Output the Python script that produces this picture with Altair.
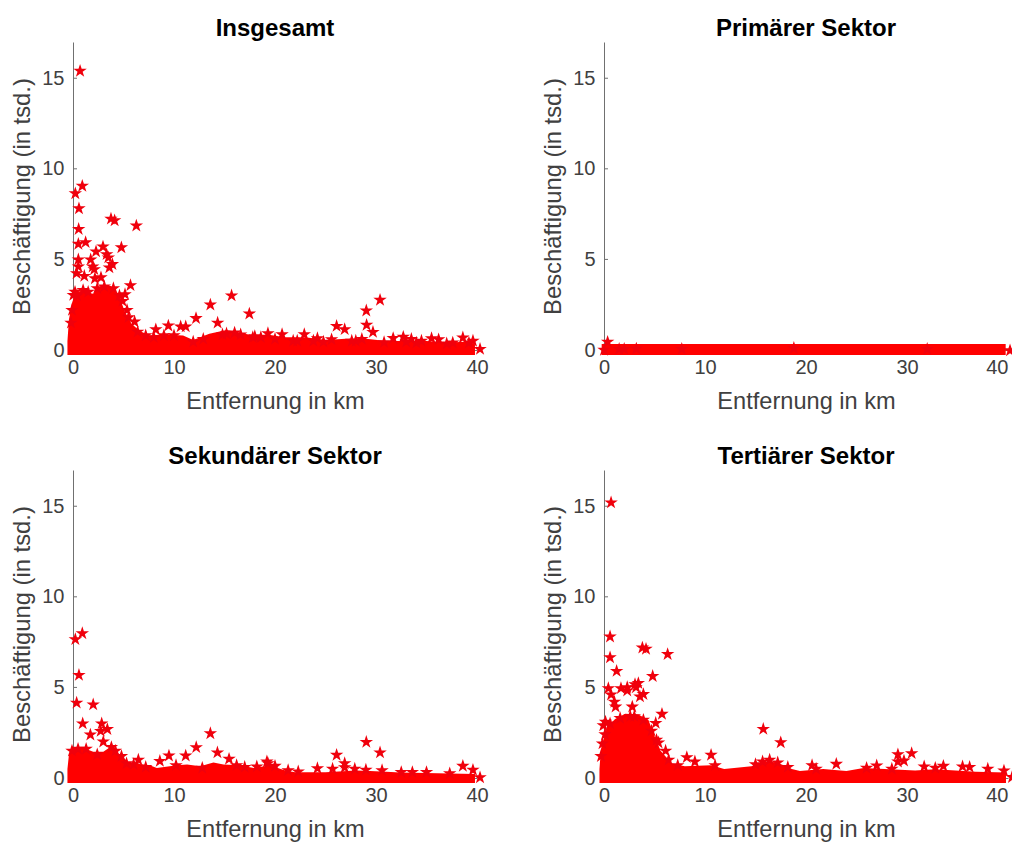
import altair as alt
import pandas as pd

FONT = "Liberation Sans"
STAR = "M0,-1L.225,-.309L.951,-.309L.363,.118L.588,.809L0,.382L-.588,.809L-.363,.118L-.951,-.309L-.225,-.309Z"
Y_TICKS = [0, 5, 10, 15]
X_TICKS = [0, 10, 20, 30, 40]
BAND_BOTTOM = -0.27

# --- Insgesamt ---
a_env_x = [-0.55, -0.4, -0.1, 0.2, 0.7, 2.0, 2.7, 3.7, 4.5, 5.1, 5.8, 6.6, 7.6, 8.9, 10.9, 11.9, 13.5, 15.2, 16.5, 17.9, 19.2, 21, 23, 25, 27, 29, 31, 33, 35, 37, 39, 39.8]
a_env_y = [0.5, 1.7, 2.6, 3.1, 3.25, 3.1, 3.5, 3.55, 3.1, 2.15, 1.45, 1.05, 0.8, 0.85, 0.8, 0.55, 0.9, 1.1, 0.95, 0.8, 0.85, 0.7, 0.7, 0.55, 0.62, 0.62, 0.5, 0.5, 0.5, 0.42, 0.45, 0.3]
a_x = [0.7, 0.92, 0.23, 0.59, 0.56, 0.53, 1.25, 3.76, 4.12, 6.27, 4.79, 2.97, 2.28, 3.33, 3.5, 1.75, 1.95, 2.1, 0.53, 0.53, 0.36, 1.12, 2.17, 2.77, 3.6, 3.9, 5.69, 5.15, 0.03, 0.2, 5.35, 6.1, 8.2, 9.44, 10.66, 11.16, 12.18, 13.6, 15.7, 17.46, 14.32,
       30.4, 29.04, 29.07, 29.7, 26.1, 26.9, 19.3, 20.7, 22.9, 24.2, 25.6, 31.7, 32.7, 33.5, 34.5, 35.5, 36.2, 38.6, 39.6, 40.3,
       -0.2, -0.1, 0.4, 1.0, 1.5, 2.4, 3.1, 4.0, 4.6, 4.9, 5.5, 6.4, 7.2, 8.0, 9.0, 10.0, 12.9, 15.2, 16.0, 16.6, 17.8, 18.6, 21.8, 23.8, 28.0, 30.8, 37.6,
       11.9, 14.8, 20.0, 22.2, 24.8, 27.6, 28.6, 33.0, 34.0, 37.0, 39.2, 18.0]
a_y = [15.4, 9.05, 8.64, 7.81, 6.67, 5.85, 5.94, 7.24, 7.15, 6.86, 5.66, 5.7, 5.43, 5.28, 5.1, 4.99, 4.6, 4.45, 4.99, 4.6, 4.23, 4.08, 3.95, 4.0, 4.55, 4.73, 3.57, 3.07, 3.03, 3.2, 2.2, 1.56, 1.13, 1.34, 1.29, 1.29, 1.75, 2.5, 3.0, 2.0, 1.5,
       2.76, 2.17, 1.38, 0.99, 1.32, 1.14, 0.92, 0.86, 0.86, 0.64, 0.58, 0.65, 0.72, 0.6, 0.5, 0.64, 0.58, 0.68, 0.5, 0.05,
       1.5, 2.2, 3.0, 3.3, 3.2, 3.4, 3.5, 3.4, 3.0, 2.7, 1.8, 1.0, 0.8, 0.7, 0.8, 0.8, 0.6, 0.9, 0.95, 0.85, 0.7, 0.7, 0.5, 0.5, 0.5, 0.42, 0.4,
       0.45, 0.85, 0.6, 0.5, 0.45, 0.5, 0.6, 0.45, 0.4, 0.35, 0.4, 0.75]

# --- Primaerer Sektor ---
b_env_x = [-0.23, 39.77]
b_env_y = [0.33, 0.33]
b_x = [0.36, 18.8, 0.0, 40.2, 3.2, 1.5, 2.0, 7.7, 32.0]
b_y = [0.44, 0.1, 0.0, -0.03, 0.07, 0.05, 0.05, 0.05, 0.05]

# --- Sekundaerer Sektor ---
c_env_x = [-0.55, -0.4, 0.0, 0.87, 2.0, 3.0, 3.66, 4.65, 5.5, 7.6, 8.3, 10.3, 11.3, 12.6, 13.9, 14.9, 16.5, 17.9, 19.5, 21, 22, 25, 28, 29.4, 31, 32.4, 39.8]
c_env_y = [0.5, 1.3, 1.65, 1.7, 1.45, 1.45, 1.7, 1.3, 0.85, 0.7, 0.55, 0.7, 0.75, 0.65, 0.85, 0.75, 0.7, 0.55, 0.7, 0.42, 0.32, 0.32, 0.42, 0.38, 0.34, 0.3, 0.22]
c_x = [0.92, 0.23, 0.59, 0.36, 2.0, 0.96, 2.84, 3.4, 2.74, 1.72, 3.0, 13.6, 12.2, 11.16, 9.5, 8.6, 6.47, 14.3, 15.45, 18.2, 19.2,
       29.04, 30.4, 26.1, 26.9, 26.9, 24.2, 25.7, 19.3, 20.0, 38.6, 39.6, 40.3, 21.3, 22.3, 27.9, 29.0, 30.6, 32.5, 33.6, 35.0, 37.3,
       -0.1, 0.5, 1.3, 2.4, 3.8, 4.2, 4.8, 5.3, 6.0, 7.2, 10.2, 12.8, 16.2, 17.0]
c_y = [7.98, 7.65, 5.68, 4.15, 4.05, 3.0, 3.0, 2.69, 2.59, 2.39, 2.0, 2.46, 1.69, 1.23, 1.23, 0.93, 1.0, 1.4, 1.05, 0.63, 0.9,
       1.98, 1.4, 1.27, 0.81, 0.58, 0.53, 0.5, 0.81, 0.66, 0.66, 0.44, 0.03, 0.42, 0.35, 0.5, 0.45, 0.42, 0.32, 0.32, 0.32, 0.25,
       1.5, 1.6, 1.6, 1.3, 1.7, 1.5, 1.2, 0.8, 0.75, 0.6, 0.7, 0.55, 0.7, 0.6]

# --- Tertiaerer Sektor ---
d_env_x = [-0.45, -0.3, 0.0, 0.3, 1.1, 2.1, 3.4, 4.4, 4.9, 5.6, 6.7, 8.0, 10.6, 11.9, 14.6, 16.3, 17.6, 18.6, 19.4, 21.7, 24, 25.7, 28.3, 30.8, 32.8, 36.8, 39.8]
d_env_y = [0.5, 1.6, 2.2, 2.8, 3.25, 3.55, 3.5, 3.2, 2.45, 1.5, 0.8, 0.65, 0.7, 0.5, 0.65, 0.95, 0.75, 0.5, 0.38, 0.5, 0.38, 0.55, 0.48, 0.42, 0.48, 0.35, 0.3]
d_x = [0.7, 0.6, 0.6, 1.25, 0.43, 0.7, 1.03, 1.15, 3.8, 4.16, 6.3, 4.82, 1.68, 2.3, 2.3, 3.07, 3.4, 3.17, 3.56, 3.9, 2.8, 5.74, 5.12, 0.15, -0.07, 15.77, 17.5, 8.2, 9.0, 10.6, 6.1, 5.4,
       30.46, 29.1, 29.7, 29.1, 20.6, 23.0, 27.0, 31.7, 33.6, 35.5, 36.2, 38.0, 39.6, 40.4,
       -0.3, -0.15, 0.1, 0.6, 1.6, 2.6, 3.0, 3.9, 4.7, 5.2, 6.4, 7.3, 11.0, 15.0, 15.7, 16.4, 17.2, 18.2, 21.0, 26.0, 28.5, 32.8]
d_y = [15.2, 7.8, 6.65, 5.9, 4.95, 4.6, 4.2, 3.93, 7.19, 7.12, 6.83, 5.62, 4.95, 5.0, 4.82, 5.17, 5.23, 5.0, 4.49, 4.62, 3.93, 3.53, 3.03, 3.1, 2.9, 2.7, 1.96, 1.14, 0.9, 1.27, 1.5, 1.95,
       1.36, 1.3, 0.95, 0.9, 0.7, 0.77, 0.68, 0.63, 0.66, 0.63, 0.6, 0.5, 0.4, 0.04,
       1.2, 1.9, 2.4, 3.0, 3.3, 3.4, 3.4, 3.2, 2.6, 2.1, 1.0, 0.7, 0.7, 0.75, 0.9, 1.0, 0.85, 0.6, 0.5, 0.55, 0.5, 0.55]


def panel(title, env_x, env_y, star_x, star_y, right_edge=False):
    x_scale = alt.Scale(domain=[0, 40], nice=False)
    y_scale = alt.Scale(domain=[0, 17], nice=False)
    x_kwargs = {}
    if right_edge:
        x_kwargs["labelAlign"] = alt.expr("datum.value >= 40 ? 'right' : 'center'")
    x_axis = alt.Axis(values=X_TICKS, title="Entfernung in km", grid=False, ticks=False,
                      labelFontSize=20, titleFontSize=23.6, labelFont=FONT, titleFont=FONT,
                      labelColor="#404040", titleColor="#404040", titleFontWeight="normal",
                      domainColor="#707070", labelPadding=7, titlePadding=12, labelFlush=False, **x_kwargs)
    y_axis = alt.Axis(values=Y_TICKS, title="Beschäftigung (in tsd.)", grid=False, ticks=False,
                      labelFontSize=20, titleFontSize=23.8, labelFont=FONT, titleFont=FONT,
                      labelColor="#404040", titleColor="#404040", titleFontWeight="normal",
                      domainColor="#707070", labelPadding=9, titlePadding=7, labelFlush=False)
    env = pd.DataFrame({"x": env_x, "y": env_y, "y0": [BAND_BOTTOM] * len(env_x)})
    stars = pd.DataFrame({"x": star_x, "y": star_y})
    ticks = pd.DataFrame({"y": Y_TICKS})
    area = alt.Chart(env).mark_area(color="#ff0000", clip=False).encode(
        x=alt.X("x:Q", scale=x_scale, axis=x_axis),
        y=alt.Y("y:Q", scale=y_scale, axis=y_axis),
        y2="y0:Q")
    pts = alt.Chart(stars).mark_point(shape=STAR, filled=True, size=200, color="#f0000c", opacity=1, clip=False).encode(
        x=alt.X("x:Q", scale=x_scale), y=alt.Y("y:Q", scale=y_scale))
    tk = alt.Chart(ticks).mark_rule(color="#707070", strokeWidth=1).encode(
        x=alt.value(0), x2=alt.value(4), y=alt.Y("y:Q", scale=y_scale))
    return alt.layer(tk, area, pts).properties(
        width=404, height=308,
        title=alt.TitleParams(title, font=FONT, fontSize=24, fontWeight="bold", color="black", offset=1))


chart = alt.concat(
    panel("Insgesamt", a_env_x, a_env_y, a_x, a_y),
    panel("Primärer Sektor", b_env_x, b_env_y, b_x, b_y, right_edge=True),
    panel("Sekundärer Sektor", c_env_x, c_env_y, c_x, c_y),
    panel("Tertiärer Sektor", d_env_x, d_env_y, d_x, d_y, right_edge=True),
    columns=2, spacing={"row": 120, "column": 127}, bounds="flush",
).configure_view(stroke=None).properties(
    autosize=alt.AutoSizeParams(type="none"),
    padding={"left": 65, "top": 34, "right": 939, "bottom": 806},
)

chart.save("out.html", embed_options={"renderer": "svg", "actions": False})
